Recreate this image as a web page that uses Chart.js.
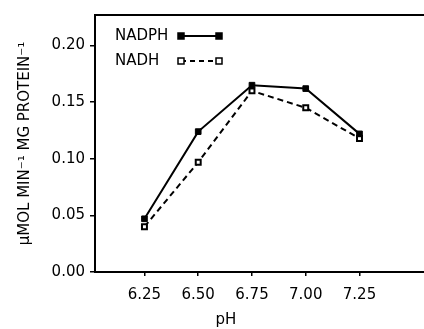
<!DOCTYPE html>
<html>
<head>
<meta charset="utf-8">
<script src="https://cdn.jsdelivr.net/npm/chart.js@4"></script>
<style>
  body { margin: 0; background: #fff; overflow: hidden; }
  #wrap { width: 424px; height: 329px; }
  canvas { display: block; }
</style>
</head>
<body>
<div id="wrap"><canvas id="theGraph"></canvas></div>
<script>
// pH on the x-axis
var ph = [6.25, 6.50, 6.75, 7.00, 7.25];
// activity, umol/min/mg protein
var nadph = [0.047, 0.124, 0.165, 0.162, 0.122];
var nadh = [0.040, 0.097, 0.160, 0.145, 0.118];

var xTicks = [6.25, 6.50, 6.75, 7.00, 7.25];
var yTicks = [0.00, 0.05, 0.10, 0.15, 0.20];

var FONT = "'DejaVu Sans', sans-serif";

function pts(ys) {
    return ph.map(function (x, i) { return { x: x, y: ys[i] }; });
}

// draws the frame top line, the in-plot legend and the pH label
var extras = {
    id: 'extras',
    afterDraw: function (chart) {
        var c = chart.ctx, a = chart.chartArea;
        c.save();
        c.strokeStyle = '#000';
        c.lineWidth = 2;
        c.beginPath();
        c.moveTo(a.left, a.top);
        c.lineTo(chart.width, a.top);
        c.stroke();

        c.font = '15px ' + FONT;
        c.fillStyle = '#000';
        c.textBaseline = 'middle';
        c.textAlign = 'left';
        var rows = [
            { label: 'NADPH', y: 36, dash: [], fill: '#000' },
            { label: 'NADH', y: 61, dash: [5, 4], fill: '#fff' }
        ];
        rows.forEach(function (r) {
            c.fillText(r.label, 115, r.y);
            c.setLineDash(r.dash);
            c.lineWidth = 2;
            c.beginPath();
            c.moveTo(181, r.y);
            c.lineTo(219, r.y);
            c.stroke();
            c.setLineDash([]);
            c.lineWidth = 1.5;
            [181, 219].forEach(function (x) {
                c.fillStyle = r.fill;
                c.fillRect(x - 3, r.y - 3, 6, 6);
                c.strokeRect(x - 3, r.y - 3, 6, 6);
            });
            c.fillStyle = '#000';
        });

        c.textAlign = 'center';
        c.fillText('pH', 226, 320);
        c.restore();
    }
};

var graph = new Chart(document.getElementById('theGraph'), {
    type: 'line',
    data: {
        datasets: [
            {
                label: 'NADPH',
                data: pts(nadph),
                borderColor: '#000',
                borderWidth: 2,
                pointStyle: 'rect',
                pointRadius: 4,
                pointBackgroundColor: '#000',
                pointBorderColor: '#000',
                pointBorderWidth: 1
            },
            {
                label: 'NADH',
                data: pts(nadh),
                borderColor: '#000',
                borderWidth: 2,
                borderDash: [6, 4],
                pointStyle: 'rect',
                pointRadius: 3.5,
                pointBackgroundColor: '#fff',
                pointBorderColor: '#000',
                pointBorderWidth: 2
            }
        ]
    },
    options: {
        responsive: true,
        maintainAspectRatio: false,
        animation: false,
        layout: { autoPadding: false, padding: { top: 15, right: 0, left: 0, bottom: 0 } },
        plugins: { legend: { display: false }, tooltip: { enabled: false } },
        scales: {
            x: {
                type: 'linear',
                min: 6.02,
                max: 7.55,
                afterBuildTicks: function (s) { s.ticks = xTicks.map(function (v) { return { value: v }; }); },
                afterFit: function (s) { s.height = 57; },
                grid: { drawOnChartArea: false, drawTicks: true, tickLength: 4, color: '#000', lineWidth: 1.5 },
                border: { display: true, color: '#000', width: 2 },
                ticks: {
                    color: '#000',
                    font: { family: FONT, size: 15 },
                    padding: 10,
                    maxRotation: 0,
                    callback: function (v) { return v.toFixed(2); }
                }
            },
            y: {
                min: 0,
                max: 0.227,
                afterBuildTicks: function (s) { s.ticks = yTicks.map(function (v) { return { value: v }; }); },
                afterFit: function (s) { s.width = 95; },
                grid: { drawOnChartArea: false, drawTicks: true, tickLength: 5, color: '#000', lineWidth: 1.5 },
                border: { display: true, color: '#000', width: 2 },
                ticks: {
                    color: '#000',
                    font: { family: FONT, size: 15 },
                    padding: 5,
                    callback: function (v) { return v.toFixed(2); }
                },
                title: {
                    display: true,
                    text: 'μMOL MIN⁻¹ MG PROTEIN⁻¹',
                    color: '#000',
                    font: { family: FONT, size: 15 },
                    padding: { top: 16, bottom: 0 }
                }
            }
        }
    },
    plugins: [extras]
});
</script>
</body>
</html>
